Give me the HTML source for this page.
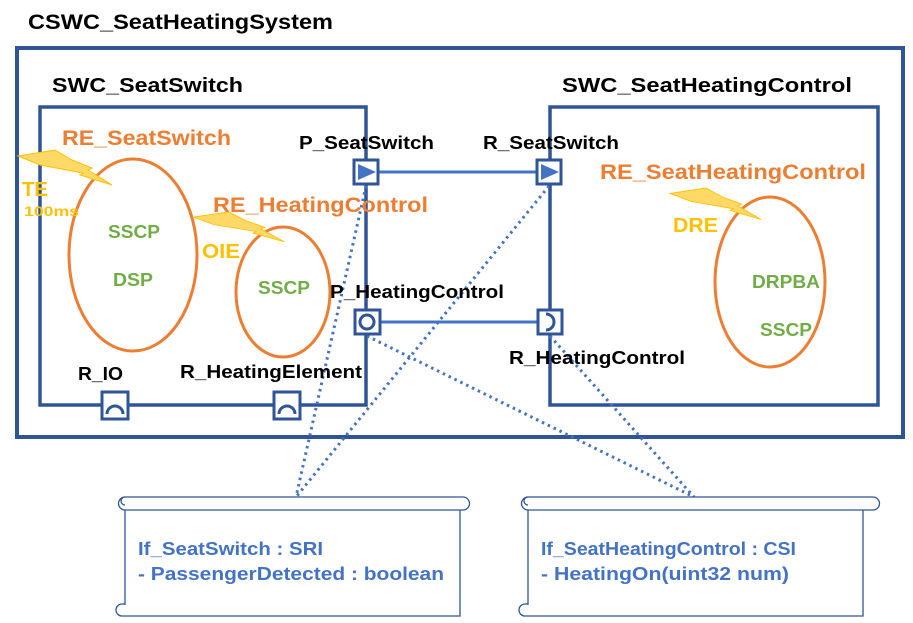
<!DOCTYPE html>
<html><head><meta charset="utf-8"><style>
html,body{margin:0;padding:0;background:#fff;}
svg{display:block;font-family:"Liberation Sans","Noto Sans CJK KR",sans-serif;}
</style></head><body>
<svg width="913" height="623" viewBox="0 0 913 623" xmlns="http://www.w3.org/2000/svg">
<defs>
<path id="bolt" d="M0,6 L37,0 L54,10 L74,18 L70,20 L94,35 L62,25 L65,23 L22,15 Z" fill="#ffd966" stroke="#ffc000" stroke-width="1"/>
</defs>
<text x="28" y="29" font-size="21" font-weight="bold" fill="#000" textLength="305" lengthAdjust="spacingAndGlyphs">CSWC_SeatHeatingSystem</text>
<rect x="17" y="48" width="886" height="389" fill="none" stroke="#2f5597" stroke-width="4"/>
<text x="52" y="92" font-size="20" font-weight="bold" textLength="191" lengthAdjust="spacingAndGlyphs">SWC_SeatSwitch</text>
<text x="562" y="92" font-size="20" font-weight="bold" textLength="290" lengthAdjust="spacingAndGlyphs">SWC_SeatHeatingControl</text>
<rect x="40" y="107" width="326" height="298" fill="none" stroke="#2f5597" stroke-width="3.5"/>
<rect x="550" y="107" width="328" height="298" fill="none" stroke="#2f5597" stroke-width="3.5"/>
<line x1="378" y1="172" x2="537" y2="172" stroke="#4472c4" stroke-width="3"/>
<line x1="380" y1="322" x2="538" y2="322" stroke="#4472c4" stroke-width="3"/>
<g stroke="#4472c4" stroke-width="3" stroke-dasharray="2.5,4" fill="none">
<line x1="366" y1="186" x2="296" y2="497"/>
<line x1="549" y1="186" x2="296" y2="497"/>
<line x1="367" y1="336" x2="694" y2="497"/>
<line x1="550" y1="336" x2="694" y2="497"/>
</g>
<g fill="none" stroke="#ed7d31" stroke-width="3">
<ellipse cx="133" cy="255" rx="64" ry="96"/>
<ellipse cx="283" cy="292" rx="47" ry="65"/>
<ellipse cx="770" cy="282" rx="55" ry="85"/>
</g>
<use href="#bolt" x="18" y="150"/>
<use href="#bolt" transform="translate(193,212) scale(0.97,0.85)"/>
<use href="#bolt" transform="translate(670,188) scale(0.97,0.9)"/>
<g font-weight="bold" lengthAdjust="spacingAndGlyphs">
<text x="62" y="145" font-size="21" fill="#ed7d31" textLength="169" lengthAdjust="spacingAndGlyphs">RE_SeatSwitch</text>
<text x="213" y="212" font-size="21" fill="#ed7d31" textLength="215" lengthAdjust="spacingAndGlyphs">RE_HeatingControl</text>
<text x="600" y="179" font-size="21" fill="#ed7d31" textLength="266" lengthAdjust="spacingAndGlyphs">RE_SeatHeatingControl</text>
<text x="22" y="196" font-size="20" fill="#ffc000" textLength="26" lengthAdjust="spacingAndGlyphs">TE</text>
<text x="24" y="216" font-size="14" fill="#ffc000" textLength="55" lengthAdjust="spacingAndGlyphs">100ms</text>
<text x="202" y="258" font-size="20" fill="#ffc000" textLength="38" lengthAdjust="spacingAndGlyphs">OIE</text>
<text x="673" y="232" font-size="20" fill="#ffc000" textLength="45" lengthAdjust="spacingAndGlyphs">DRE</text>
<g fill="#70ad47" font-size="18">
<text x="108" y="238" textLength="52" lengthAdjust="spacingAndGlyphs">SSCP</text>
<text x="113" y="286" textLength="40" lengthAdjust="spacingAndGlyphs">DSP</text>
<text x="258" y="294" textLength="52" lengthAdjust="spacingAndGlyphs">SSCP</text>
<text x="752" y="288" textLength="68" lengthAdjust="spacingAndGlyphs">DRPBA</text>
<text x="760" y="336" textLength="52" lengthAdjust="spacingAndGlyphs">SSCP</text>
</g>
<g font-size="18" fill="#000">
<text x="299" y="149" textLength="135" lengthAdjust="spacingAndGlyphs">P_SeatSwitch</text>
<text x="483" y="149" textLength="136" lengthAdjust="spacingAndGlyphs">R_SeatSwitch</text>
<text x="330" y="298" textLength="174" lengthAdjust="spacingAndGlyphs">P_HeatingControl</text>
<text x="509" y="364" textLength="176" lengthAdjust="spacingAndGlyphs">R_HeatingControl</text>
<text x="78" y="380" textLength="45" lengthAdjust="spacingAndGlyphs">R_IO</text>
<text x="180" y="378" textLength="182" lengthAdjust="spacingAndGlyphs">R_HeatingElement</text>
</g>
</g>
<g stroke="#2f5597" stroke-width="3" fill="#fff">
<rect x="354" y="160" width="24" height="24"/>
<rect x="537" y="160" width="24" height="24"/>
<rect x="355" y="310" width="25" height="24"/>
<rect x="538" y="310" width="24" height="24"/>
<rect x="102" y="392" width="26" height="27"/>
<rect x="274" y="392" width="26" height="27"/>
</g>
<polygon points="358,164 358,180 376,172" fill="#4472c4"/>
<polygon points="541,164 541,180 559,172" fill="#4472c4"/>
<circle cx="367" cy="322" r="7" fill="none" stroke="#2f5597" stroke-width="3"/>
<path d="M546,314 A8,8 0 0 1 546,330" fill="none" stroke="#2f5597" stroke-width="3"/>
<path d="M107,414 A8,8 0 0 1 123,414" fill="none" stroke="#2f5597" stroke-width="3"/>
<path d="M279,414 A8,8 0 0 1 295,414" fill="none" stroke="#2f5597" stroke-width="3"/>
<g fill="#fff" stroke="#2f5597" stroke-width="1.3">
<path d="M125,510 L125,605 M460,510 L460,616 L122,616 A6,6 0 0 1 116,610 A6,6 0 0 1 122,604 L125,604"/>
<path d="M125,497 L463,497 A6.5,6.5 0 0 1 463,510 L125,510 A6.5,6.5 0 0 1 125,497 Z"/>
<path d="M125,497 A4,4 0 0 0 125,505" fill="none"/>
<path d="M528,510 L528,605 M863,510 L863,616 L525,616 A6,6 0 0 1 519,610 A6,6 0 0 1 525,604 L528,604"/>
<path d="M528,497 L873,497 A6.5,6.5 0 0 1 873,510 L528,510 A6.5,6.5 0 0 1 528,497 Z"/>
<path d="M528,497 A4,4 0 0 0 528,505" fill="none"/>
</g>
<g font-size="18" font-weight="bold" fill="#4472c4">
<text x="138" y="555" textLength="185" lengthAdjust="spacingAndGlyphs">If_SeatSwitch : SRI</text>
<text x="138" y="580" textLength="306" lengthAdjust="spacingAndGlyphs">- PassengerDetected : boolean</text>
<text x="541" y="555" textLength="255" lengthAdjust="spacingAndGlyphs">If_SeatHeatingControl : CSI</text>
<text x="541" y="580" textLength="248" lengthAdjust="spacingAndGlyphs">- HeatingOn(uint32 num)</text>
</g>
</svg>
</body></html>
